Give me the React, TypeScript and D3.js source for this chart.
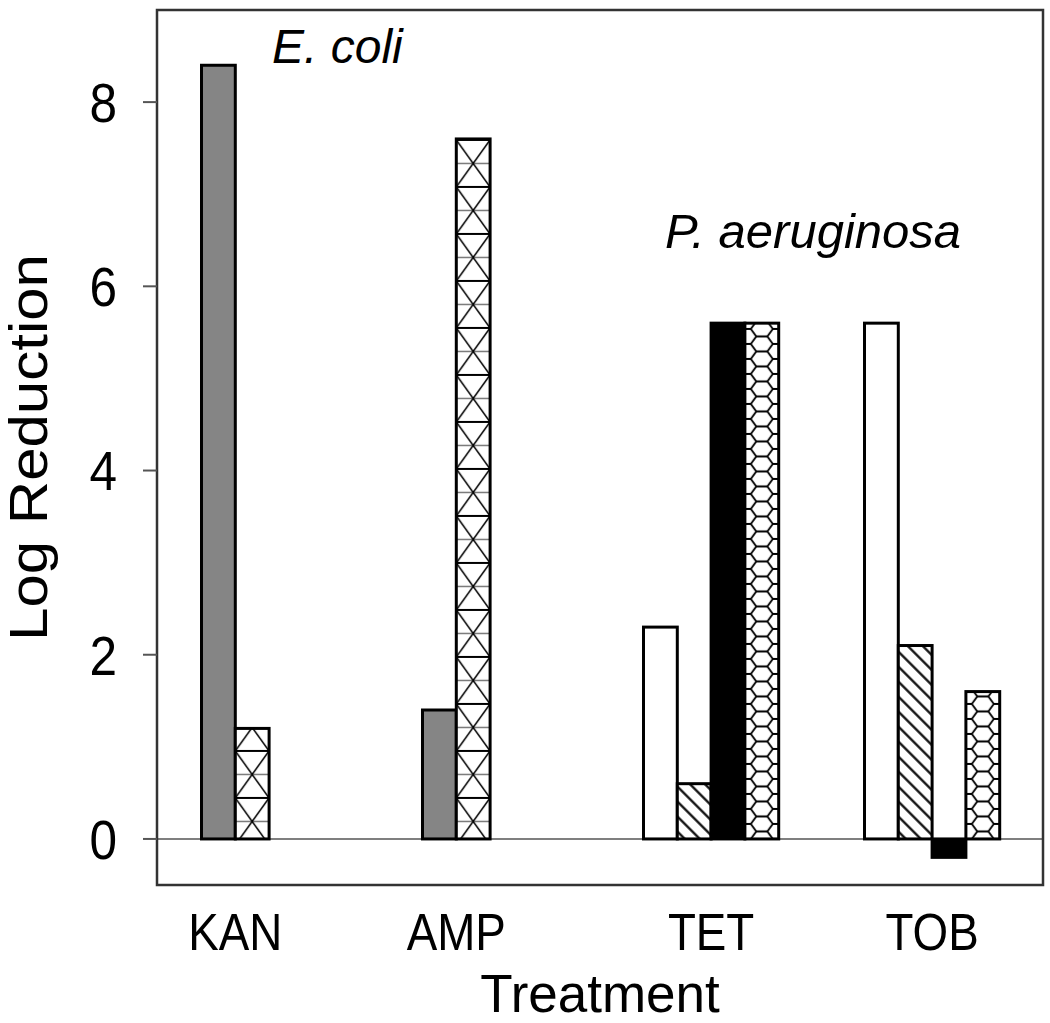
import React from 'react';
import * as d3 from 'd3';

// ---- data ----
const categories = ['KAN', 'AMP', 'TET', 'TOB'];
const seriesKeys = ['ecGray', 'ecCross', 'paWhite', 'paDiag', 'paBlack', 'paHex'];
const ecGray: (number | null)[] = [8.4, 1.4, null, null];
const ecCross: (number | null)[] = [1.2, 7.6, null, null];
const paWhite: (number | null)[] = [null, null, 2.3, 5.6];
const paDiag: (number | null)[] = [null, null, 0.6, 2.1];
const paBlack: (number | null)[] = [null, null, 5.6, -0.2];
const paHex: (number | null)[] = [null, null, 5.6, 1.6];
const yTicks = [0, 2, 4, 6, 8];
const yDomain = [-0.5, 9];
const organismLabels = ['E. coli', 'P. aeruginosa'];
const xTitle = 'Treatment';
const yTitle = 'Log Reduction';

const seriesValues: Record<string, (number | null)[]> = {
  ecGray, ecCross, paWhite, paDiag, paBlack, paHex,
};

const W = 1050, H = 1023;
const L = 157, R = 1043, T = 10, B = 885;
const FONT = '"Liberation Sans", Arial, sans-serif';

export default function App() {
  const y = d3.scaleLinear().domain(yDomain).range([B, T]);
  const x = d3.scaleBand<string>().domain(categories).range([201.5, 201.5 + 4 * 221]);
  const slot = d3.scaleBand<number>().domain(d3.range(6)).range([0, 6 * 33.8]);

  type Bar = { key: string; cat: string; v: number; x0: number; w: number; id: string };
  const bars: Bar[] = [];
  const catCenters: Record<string, number> = {};
  categories.forEach((cat, ci) => {
    let k = 0;
    const xs: number[] = [];
    seriesKeys.forEach((s) => {
      const v = seriesValues[s][ci];
      if (v === null || v === undefined) return;
      const x0 = (x(cat) as number) + (slot(k) as number);
      bars.push({ key: s, cat, v, x0, w: slot.bandwidth(), id: `p-${s}-${ci}` });
      xs.push(x0, x0 + slot.bandwidth());
      k++;
    });
    catCenters[cat] = (d3.min(xs)! + d3.max(xs)!) / 2;
  });

  const y0 = y(0);

  const fillFor = (b: Bar) => {
    if (b.key === 'ecGray') return '#858585';
    if (b.key === 'paWhite') return '#ffffff';
    if (b.key === 'paBlack') return '#000000';
    return `url(#${b.id})`;
  };

  const patternFor = (b: Bar) => {
    const w = b.w;
    if (b.key === 'ecCross') {
      const P = 47;
      return (
        <pattern key={b.id} id={b.id} patternUnits="userSpaceOnUse" width={w} height={P}
          patternTransform={`translate(${b.x0},${y0 + 6})`}>
          <rect width={w} height={P} fill="#fff" />
          <line x1={0} y1={0} x2={w} y2={0} stroke="#000" strokeWidth={2} />
          <line x1={0} y1={P / 2} x2={w} y2={P / 2} stroke="#777" strokeWidth={1.5} />
          <line x1={0} y1={P} x2={w} y2={P} stroke="#000" strokeWidth={2} />
          <line x1={0} y1={0} x2={w} y2={P} stroke="#000" strokeWidth={1.6} />
          <line x1={w} y1={0} x2={0} y2={P} stroke="#000" strokeWidth={1.6} />
        </pattern>
      );
    }
    if (b.key === 'paDiag') {
      const s = 10.6;
      return (
        <pattern key={b.id} id={b.id} patternUnits="userSpaceOnUse" width={s} height={s}
          patternTransform={`translate(${b.x0},${y0}) rotate(-45)`}>
          <rect width={s} height={s} fill="#fff" />
          <line x1={s / 2} y1={-1} x2={s / 2} y2={s + 1} stroke="#000" strokeWidth={2.2} />
        </pattern>
      );
    }
    if (b.key === 'paHex') {
      const hw = 22, hh = 15, cs = hw * 0.75;
      const hex = (cx: number, cy: number) =>
        `M${cx - hw / 2},${cy} L${cx - hw / 4},${cy - hh / 2} L${cx + hw / 4},${cy - hh / 2} L${cx + hw / 2},${cy} L${cx + hw / 4},${cy + hh / 2} L${cx - hw / 4},${cy + hh / 2} Z`;
      const centers: [number, number][] = [
        [0, 0], [0, hh], [2 * cs, 0], [2 * cs, hh],
        [cs, -hh / 2], [cs, hh / 2], [cs, 1.5 * hh],
      ];
      return (
        <pattern key={b.id} id={b.id} patternUnits="userSpaceOnUse" width={2 * cs} height={hh}
          patternTransform={`translate(${b.x0 + w / 2},${y0})`}>
          <rect width={2 * cs} height={hh} fill="#fff" />
          <path d={centers.map(([cx, cy]) => hex(cx, cy)).join(' ')} fill="none" stroke="#000" strokeWidth={1.8} />
        </pattern>
      );
    }
    return null;
  };

  return (
    <svg width={W} height={H} style={{ position: 'absolute', left: 0, top: 0, background: '#fff' }}
      fontFamily={FONT}>
      <defs>{bars.map(patternFor)}</defs>
      <rect x={0} y={0} width={W} height={H} fill="#fff" />

      {/* zero line */}
      <line x1={L} x2={R} y1={y0} y2={y0} stroke="#555" strokeWidth={1.6} />

      {/* bars */}
      {bars.map((b) => {
        const top = Math.min(y(b.v), y0);
        const h = Math.abs(y(b.v) - y0);
        return (
          <rect key={b.id} x={b.x0} y={top} width={b.w} height={h} fill={fillFor(b)}
            stroke="#000" strokeWidth={3} />
        );
      })}

      {/* frame */}
      <rect x={L} y={T} width={R - L} height={B - T} fill="none" stroke="#333" strokeWidth={2.5} />

      {/* y ticks */}
      {yTicks.map((t) => (
        <g key={t}>
          <line x1={L - 14} x2={L} y1={y(t)} y2={y(t)} stroke="#555" strokeWidth={2} />
          <text transform={`translate(117,${y(t)}) scale(0.9,1)`} textAnchor="end" dy="0.36em"
            fontSize={55} fill="#000">{t}</text>
        </g>
      ))}

      {/* category labels */}
      {categories.map((c) => (
        <text key={c} transform={`translate(${catCenters[c]},950) scale(0.88,1)`} textAnchor="middle"
          fontSize={52} fill="#000">{c}</text>
      ))}

      {/* axis titles */}
      <text x={(L + R) / 2} y={1012} textAnchor="middle" fontSize={53} fill="#000">{xTitle}</text>
      <text transform={`translate(47,${(T + B) / 2}) rotate(-90) scale(1,0.88)`} textAnchor="middle"
        fontSize={60} fill="#000">{yTitle}</text>

      {/* organism annotations */}
      <text x={272} y={63} fontSize={48} fontStyle="italic" fill="#000">{organismLabels[0]}</text>
      <text x={665} y={248} fontSize={49} fontStyle="italic" fill="#000">{organismLabels[1]}</text>
    </svg>
  );
}
